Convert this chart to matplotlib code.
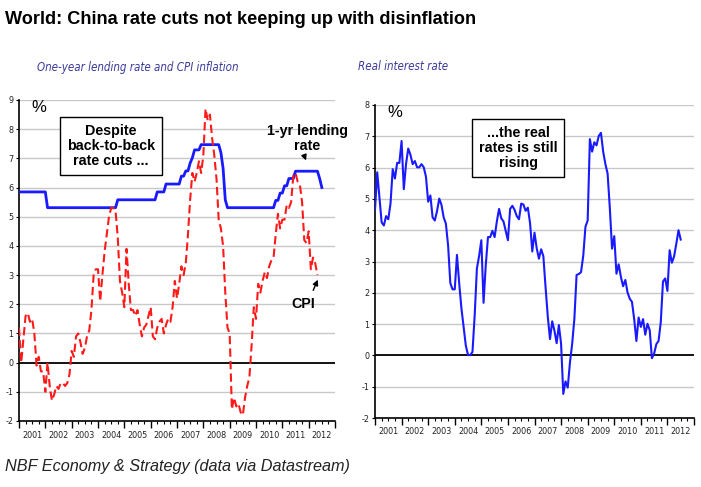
import matplotlib
matplotlib.use('Agg')
import matplotlib.pyplot as plt
import numpy as np

plt.rcParams['font.family'] = ['Liberation Sans', 'DejaVu Sans']

# monthly data, Jan 2001 onwards
start_year = 2001
lending_rate = (
    [5.85] * 13 + [5.31] * 32 + [5.58] * 18 + [5.85] * 4 + [6.12] * 7 +
    [6.39, 6.39, 6.57, 6.57, 6.84, 7.02, 7.29, 7.29, 7.29, 7.47] +
    [7.47] * 8 + [7.20, 6.66, 5.58, 5.31] + [5.31] * 21 +
    [5.56, 5.56, 5.81, 5.81, 6.06, 6.06, 6.31, 6.31, 6.31] +
    [6.56] * 11 + [6.31, 6.00]
)
cpi = [
    1.2, 0.0, 0.8, 1.6, 1.7, 1.4, 1.5, 1.0, -0.1, 0.2, -0.3, -0.3,
    -1.0, 0.0, -0.8, -1.3, -1.1, -0.8, -0.9, -0.7, -0.7, -0.8, -0.7, -0.4,
    0.4, 0.2, 0.9, 1.0, 0.7, 0.3, 0.5, 0.9, 1.1, 1.8, 3.0, 3.2,
    3.2, 2.1, 3.0, 3.8, 4.4, 5.0, 5.3, 5.3, 5.2, 4.3, 2.8, 2.4,
    1.9, 3.9, 2.7, 1.8, 1.8, 1.6, 1.8, 1.3, 0.9, 1.2, 1.3, 1.6,
    1.9, 0.9, 0.8, 1.2, 1.4, 1.5, 1.0, 1.3, 1.5, 1.4, 1.9, 2.8,
    2.2, 2.7, 3.3, 3.0, 3.4, 4.4, 5.6, 6.5, 6.2, 6.5, 6.9, 6.5,
    7.1, 8.7, 8.3, 8.5, 7.7, 7.1, 6.3, 4.9, 4.6, 4.0, 2.4, 1.2,
    1.0, -1.6, -1.2, -1.5, -1.4, -1.7, -1.8, -1.2, -0.8, -0.5, 0.6, 1.9,
    1.5, 2.7, 2.4, 2.8, 3.1, 2.9, 3.3, 3.5, 3.6, 4.4, 5.1, 4.6,
    4.9, 4.9, 5.4, 5.3, 5.5, 6.4, 6.5, 6.2, 6.1, 5.5, 4.2, 4.1,
    4.5, 3.2, 3.6, 3.4, 3.0,
]
real_rate = [
    4.65, 5.85, 5.05, 4.25, 4.15, 4.45, 4.35, 4.85, 5.95, 5.65, 6.15, 6.15,
    6.85, 5.31, 6.11, 6.61, 6.41, 6.11, 6.21, 6.01, 6.01, 6.11, 6.01, 5.71,
    4.91, 5.11, 4.41, 4.31, 4.61, 5.01, 4.81, 4.41, 4.21, 3.51, 2.31, 2.11,
    2.11, 3.21, 2.31, 1.51, 0.91, 0.31, 0.01, 0.01, 0.11, 1.28, 2.78, 3.18,
    3.68, 1.68, 2.88, 3.78, 3.78, 3.98, 3.78, 4.28, 4.68, 4.38, 4.28, 3.98,
    3.68, 4.68, 4.78, 4.65, 4.45, 4.35, 4.85, 4.82, 4.62, 4.72, 4.22, 3.32,
    3.92, 3.42, 3.09, 3.39, 3.17, 2.17, 1.24, 0.52, 1.09, 0.79, 0.39, 0.97,
    0.37, -1.23, -0.83, -1.03, -0.23, 0.37, 1.17, 2.57, 2.60, 2.66, 3.18, 4.11,
    4.31, 6.91, 6.51, 6.81, 6.71, 7.01, 7.11, 6.51, 6.11, 5.81, 4.71, 3.41,
    3.81, 2.61, 2.91, 2.51, 2.21, 2.41, 2.01, 1.81, 1.71, 1.16, 0.46, 1.21,
    0.91, 1.16, 0.66, 1.01, 0.81, -0.09, 0.06, 0.36, 0.46, 1.06, 2.36, 2.46,
    2.06, 3.36, 2.96, 3.16, 3.56, 4.00, 3.70,
]
years = list(range(2001, 2013))

x_lend = start_year + np.arange(len(lending_rate)) / 12
x_cpi = start_year + np.arange(len(cpi)) / 12
x_real = start_year + np.arange(len(real_rate)) / 12

blue = '#1a1aff'
red = '#ff1a1a'
cond = dict(family='DejaVu Sans', fontstretch='condensed')

fig = plt.figure(figsize=(7.01, 4.87), dpi=100)


def style_axes(ax, ymin, ymax):
    ax.set_xlim(2001, 2013)
    ax.set_ylim(ymin, ymax)
    for s in ['top', 'right']:
        ax.spines[s].set_visible(False)
    ax.spines['left'].set_linewidth(1.2)
    ax.spines['bottom'].set_linewidth(1.2)
    ax.set_yticks(range(ymin, ymax + 1))
    ax.set_yticklabels([str(v) for v in range(ymin, ymax + 1)], fontsize=6.5, color='#222222', **cond)
    for v in range(ymin + 1, ymax + 1):
        if v != 0:
            ax.axhline(v, color='#c8c8c8', lw=1.0, zorder=0)
    ax.axhline(0, color='black', lw=1.3, zorder=1)
    ax.set_xticks(list(years) + [2013])
    ax.set_xticklabels([])
    ax.set_xticks([y + q for y in years for q in (0.25, 0.5, 0.75)], minor=True)
    ax.tick_params(axis='x', which='major', length=5, width=1, direction='out')
    ax.tick_params(axis='x', which='minor', length=2.5, width=0.8, direction='out')
    ax.tick_params(axis='y', length=2, width=0.8, pad=2)
    for y in years:
        ax.text(y + 0.5, -0.03, str(y), transform=ax.get_xaxis_transform(),
                ha='center', va='top', fontsize=6.5, color='#222222', **cond)
    ax.text(0.04, 1.0, '%', transform=ax.transAxes, ha='left', va='top', fontsize=12)


# left panel
ax1 = fig.add_axes([19 / 701, 66 / 487, 316 / 701, 321 / 487])
style_axes(ax1, -2, 9)
ax1.plot(x_lend, lending_rate, color=blue, lw=2, zorder=3)
ax1.plot(x_cpi, cpi, color=red, lw=1.5, ls=(0, (4, 2)), zorder=4)
ax1.text(2004.49, 7.42, 'Despite\nback-to-back\nrate cuts ...', ha='center', va='center',
         fontsize=10.3, fontweight='bold', linespacing=1.1,
         bbox=dict(boxstyle='square,pad=0.5', fc='white', ec='black', lw=1))
ax1.text(2011.94, 7.68, '1-yr lending\nrate', ha='center', va='center', fontsize=10.3,
         fontweight='bold', linespacing=1.1, clip_on=False)
ax1.annotate('', xy=(2011.94, 6.84), xytext=(2011.82, 7.12),
             arrowprops=dict(arrowstyle='-|>', color='black', lw=1, mutation_scale=8))
ax1.text(2011.79, 2.01, 'CPI', ha='center', va='center', fontsize=10.3, fontweight='bold')
ax1.annotate('', xy=(2012.39, 2.93), xytext=(2012.13, 2.39),
             arrowprops=dict(arrowstyle='-|>', color='black', lw=1, mutation_scale=8))

# right panel
ax2 = fig.add_axes([375 / 701, 69 / 487, 319 / 701, 313 / 487])
style_axes(ax2, -2, 8)
ax2.plot(x_real, real_rate, color=blue, lw=1.5, zorder=3)
ax2.text(2006.38, 6.63, '...the real\nrates is still\nrising', ha='center', va='center',
         fontsize=10.3, fontweight='bold', linespacing=1.1,
         bbox=dict(boxstyle='square,pad=0.5', fc='white', ec='black', lw=1))

# titles
fig.text(5 / 701, 1 - 20 / 487, 'World: China rate cuts not keeping up with disinflation',
         ha='left', va='center', fontsize=13.1, fontweight='bold')
fig.text(138 / 701, 1 - 67 / 487, 'One-year lending rate and CPI inflation', ha='center', va='center',
         style='italic', fontsize=8.3, color='#3a3a9a', **cond)
fig.text(403 / 701, 1 - 66 / 487, 'Real interest rate', ha='center', va='center',
         style='italic', fontsize=8.3, color='#3a3a9a', **cond)
fig.text(5 / 701, 1 - 466 / 487, 'NBF Economy & Strategy (data via Datastream)', ha='left', va='center',
         style='italic', fontsize=11.7, color='#222222')

fig.savefig('out.png', dpi=100)
